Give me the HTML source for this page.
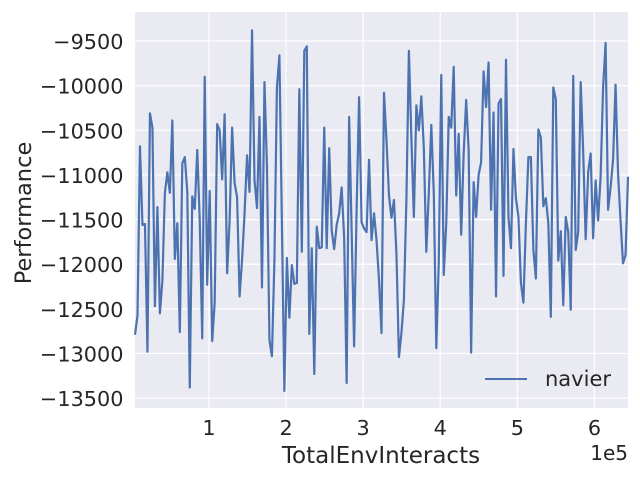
<!DOCTYPE html>
<html><head><meta charset="utf-8"><style>
body{margin:0;background:#fff;}
svg{display:block;font-family:"DejaVu Sans","Liberation Sans",sans-serif;}
</style></head><body>
<svg id="chart" width="640" height="480" viewBox="0 0 640 480" xmlns="http://www.w3.org/2000/svg">
<rect x="0" y="0" width="640" height="480" fill="#ffffff"/>
<rect x="135" y="12" width="493" height="396" fill="#EAEAF2"/>
<g id="grid"></g>
<g id="ticks"></g>
<g id="series"></g>
<text transform="translate(31,213) rotate(-90)" text-anchor="middle" font-size="22.5" fill="#262626">Performance</text>
<text x="381" y="463" text-anchor="middle" font-size="23" fill="#262626">TotalEnvInteracts</text>
<text x="628" y="460" text-anchor="end" font-size="20" fill="#262626">1e5</text>
<g>
<line x1="485" y1="379" x2="527" y2="379" stroke="#4C72B0" stroke-width="2"/>
<text x="545" y="386" font-size="21" fill="#262626">navier</text>
</g>
</svg>
<script>
const yValues = [
-12790,-12570,-10680,-11560,-11550,-12980,-10310,-10470,-12470,-11360,-12550,-12180,-11200,-10970,-11200,-10390,-11940,-11540,-12760,-10870,-10800,-11190,-13380,-11240,-11380,-10720,-11510,-12830,-9900,-12230,-11180,-12860,-12430,-10430,-10500,-11050,-10320,-12100,-11510,-10470,-11090,-11250,-12360,-11950,-11430,-10780,-11190,-9380,-11060,-11370,-10350,
-12260,-9960,-10910,-12850,-13030,-11950,-10020,-9660,-11540,-13420,-11930,-12600,-12010,-12220,-12210,-10040,-11860,-9610,-9560,-12780,-11820,-13230,-11580,-11820,-11810,-10470,-11820,-10700,-11620,-11830,-11560,-11430,-11140,-11700,-13330,-10350,-11620,-12920,-11390,-10130,-11530,-11600,-11640,-10830,-11730,-11430,-11730,-12180,-12770,-10080,
-10610,-11230,-11480,-11280,-11880,-13040,-12770,-12400,-11280,-9610,-10590,-11470,-10220,-10500,-10120,-10700,-11860,-11200,-10440,-11200,-12940,-11980,-9880,-12120,-11540,-10350,-10470,-9790,-11230,-10540,-11670,-10760,-10160,-10720,-12990,-11080,-11470,-11000,-10860,-9840,-10240,-9740,-11390,-10300,-12360,-10200,-10150,-12130,-9710,
-11470,-11820,-10710,-11260,-11470,-12210,-12430,-11540,-10800,-10800,-11840,-12160,-10490,-10580,-11350,-11260,-11540,-12590,-10020,-10150,-11960,-11630,-12460,-11470,-11640,-12510,-9890,-11840,-11640,-9960,-10740,-11720,-10970,-10760,-11710,-11060,-11510,-11020,-10020,-9520,-11390,-11140,-10830,-9990,-10980,-11510,-11990,-11900,-11020
];
const xStart = 4000;
const xStep = 3230;
const yTicks = [-13500,-13000,-12500,-12000,-11500,-11000,-10500,-10000,-9500];
const xTicks = [100000,200000,300000,400000,500000,600000];
const xTickLabels = ["1","2","3","4","5","6"];

const NS = "http://www.w3.org/2000/svg";
const L = 135, R = 628, T = 12, B = 408;
const xs = yValues.map((v, i) => xStart + i * xStep);
const xMin = xs[0], xMax = xs[xs.length - 1];
const yMin = -13610, yMax = -9175;
function xScale(v){ return L + (v - xMin) / (xMax - xMin) * (R - L); }
function yScale(v){ return B - (v - yMin) / (yMax - yMin) * (B - T); }
function mk(tag, attrs, parent){
  const e = document.createElementNS(NS, tag);
  for (const k in attrs) e.setAttribute(k, attrs[k]);
  parent.appendChild(e);
  return e;
}
const grid = document.getElementById('grid');
const ticks = document.getElementById('ticks');
yTicks.forEach(t => {
  const y = yScale(t);
  const g = mk('line', {x1:L, x2:R, y1:y, y2:y, stroke:'#ffffff', 'stroke-width':1.2}, grid);
  
  
  const tx = mk('text', {x:123.5, y:y+8, 'text-anchor':'end', 'font-size':20.8, fill:'#262626'}, ticks);
  tx.textContent = '\u2212' + Math.abs(t);
  
  
});
xTicks.forEach((t, i) => {
  const x = xScale(t);
  const g = mk('line', {x1:x, x2:x, y1:T, y2:B, stroke:'#ffffff', 'stroke-width':1.2}, grid);
  
  
  const tx = mk('text', {x:x, y:435, 'text-anchor':'middle', 'font-size':20.8, fill:'#262626'}, ticks);
  tx.textContent = xTickLabels[i];
  
  
});
const pts = yValues.map((v, i) => xScale(xs[i]).toFixed(2) + ',' + yScale(v).toFixed(2)).join(' ');
const line = mk('polyline', {points:pts, fill:'none', stroke:'#4C72B0', 'stroke-width':2.2, 'stroke-linejoin':'round'}, document.getElementById('series'));


</script>
</body></html>
